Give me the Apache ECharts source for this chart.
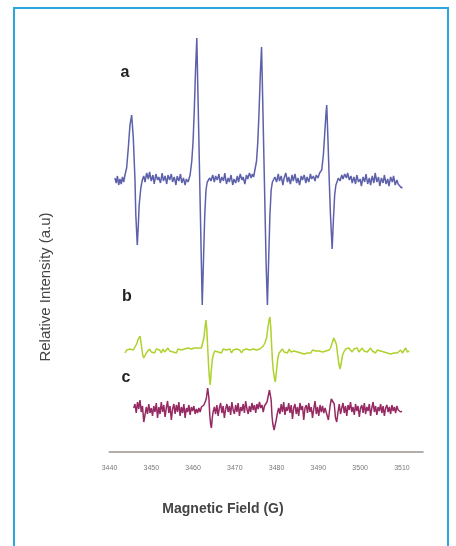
<!DOCTYPE html>
<html>
<head>
<meta charset="utf-8">
<script src="https://cdn.jsdelivr.net/npm/echarts@6/dist/echarts.min.js"></script>
<style>
html,body{margin:0;padding:0;background:#fff;}
#chart{width:456px;height:546px;}
</style>
</head>
<body>
<div id="chart"></div>
<script>
// Tick labels of the magnetic field axis (G)
var xTicks = [3440, 3450, 3460, 3470, 3480, 3490, 3500, 3510];
var seriesNames = ['a', 'b', 'c'];

// Trace a: [field (G), relative intensity]
var traceA = [
[3441.3,2],[3441.6,-3],[3441.9,4],[3442.2,-5],[3442.5,1],[3442.8,-4],[3443.1,3],[3443.4,-2],[3443.7,5],
[3443.9,6],[3444.1,12],[3444.5,32],[3444.9,55],[3445.3,65],[3445.7,42],[3446.1,0],[3446.3,-35],[3446.65,-65],[3446.9,-45],[3447.1,-25],[3447.5,-8],[3447.85,0],
[3448.2,4],[3448.5,-2],[3448.9,7],[3449.3,1],[3449.6,8],[3450.0,-1],[3450.4,5],[3450.7,-4],[3451.1,6],[3451.5,0],[3451.8,3],[3452.2,-3],[3452.6,7],[3452.9,-1],[3453.3,4],[3453.7,-4],[3454.0,5],[3454.4,0],[3454.8,6],[3455.1,-2],[3455.5,3],[3455.9,-5],[3456.2,4],[3456.6,-1],[3457.0,6],[3457.3,-3],[3457.7,2],[3458.1,-5],[3458.4,1],[3458.8,-2],
[3459.3,5],[3459.7,19],[3460.0,38],[3460.3,70],[3460.6,110],[3460.9,142],[3461.2,80],[3461.5,19],[3461.8,-43],[3462.0,-84],[3462.2,-125],[3462.5,-80],[3462.8,-35],[3463.1,-10],[3463.4,-2],
[3463.7,-3],[3464.0,2],[3464.3,-1],[3464.7,5],[3465.1,-2],[3465.4,4],[3465.8,0],[3466.2,6],[3466.5,-3],[3466.9,3],[3467.3,-1],[3467.6,7],[3468.0,-4],[3468.4,2],[3468.7,-2],[3469.1,5],[3469.5,-5],[3469.8,1],[3470.2,-3],[3470.6,4],[3470.9,-2],[3471.3,6],[3471.7,0],[3472.0,3],[3472.4,-4],[3472.8,5],[3473.1,1],[3473.5,7],[3473.9,2],[3474.2,6],[3474.5,3],
[3474.8,4],[3475.2,19],[3475.5,38],[3475.8,68],[3476.1,105],[3476.4,133],[3476.7,75],[3477.0,15],[3477.3,-45],[3477.5,-85],[3477.8,-125],[3478.1,-80],[3478.4,-35],[3478.7,-10],[3479.0,-2],
[3479.3,-4],[3479.6,3],[3480.0,-2],[3480.4,6],[3480.7,-1],[3481.1,4],[3481.5,-5],[3481.8,2],[3482.2,7],[3482.6,-2],[3482.9,3],[3483.3,-4],[3483.7,5],[3484.0,-1],[3484.4,6],[3484.8,-3],[3485.1,2],[3485.5,-5],[3485.9,4],[3486.2,0],[3486.6,5],[3487.0,-3],[3487.3,3],[3487.7,-2],[3488.1,6],[3488.4,1],[3488.8,4],[3489.2,-1],[3489.5,5],[3489.9,2],[3490.3,7],
[3490.8,10],[3491.2,25],[3491.5,45],[3491.8,65],[3492.0,75],[3492.3,40],[3492.6,0],[3492.9,-35],[3493.3,-69],[3493.6,-40],[3493.9,-15],[3494.2,-5],
[3494.5,-4],[3494.8,2],[3495.2,-1],[3495.6,5],[3495.9,1],[3496.3,6],[3496.7,2],[3497.0,7],[3497.4,0],[3497.8,4],[3498.1,-3],[3498.5,3],[3498.9,-4],[3499.2,5],[3499.6,-2],[3500.0,1],[3500.3,-6],[3500.7,3],[3501.1,-2],[3501.4,6],[3501.8,-4],[3502.2,2],[3502.5,-5],[3502.9,4],[3503.3,-3],[3503.6,7],[3504.0,-2],[3504.4,3],[3504.7,-6],[3505.1,2],[3505.5,-3],[3505.8,5],[3506.2,-4],[3506.6,1],[3506.9,-6],[3507.3,3],[3507.7,-2],[3508.0,4],[3508.4,-5],[3508.8,0],[3509.1,-4],[3509.5,-2],[3509.9,-8],[3510.1,-7]
];

// Trace b: [field (G), relative intensity]
var traceB = [
[3443.7,-1],[3444.1,2],[3444.5,0],[3444.9,3],[3445.3,1],[3445.7,2],[3446.1,4],[3446.5,8],[3446.9,13],[3447.3,16],[3447.6,8],[3447.9,-2],[3448.2,-6],[3448.5,-4],[3448.8,-1],[3449.2,1],[3449.6,3],[3450.0,0],[3450.4,2],[3450.8,-1],[3451.2,3],[3451.6,1],[3452.0,2],[3452.4,-1],[3452.8,3],[3453.2,0],[3453.6,2],[3454.0,4],[3454.4,1],[3454.8,3],[3455.2,0],[3455.6,2],[3456.0,-1],[3456.4,3],[3456.8,1],[3457.2,2],[3457.6,0],[3458.0,3],[3458.4,1],[3458.8,4],[3459.2,2],[3459.6,3],[3460.0,1],[3460.4,4],[3460.8,2],[3461.2,4],[3461.6,2],[3462.0,4],
[3462.3,6],[3462.6,14],[3462.9,26],[3463.1,32],[3463.3,22],[3463.5,5],[3463.7,-12],[3463.9,-25],[3464.1,-33],[3464.3,-22],[3464.6,-8],[3464.9,-2],[3465.2,1],
[3465.6,3],[3466.0,0],[3466.4,2],[3466.8,-1],[3467.2,3],[3467.6,1],[3468.0,2],[3468.4,0],[3468.8,3],[3469.2,-1],[3469.6,2],[3470.0,0],[3470.4,3],[3470.8,1],[3471.2,2],[3471.6,-1],[3472.0,2],[3472.4,0],[3472.8,3],[3473.2,1],[3473.6,2],[3474.0,0],[3474.4,3],[3474.8,1],[3475.2,2],[3475.6,4],[3476.0,3],[3476.4,5],[3476.8,6],
[3477.2,9],[3477.6,14],[3477.9,24],[3478.2,32],[3478.4,35],[3478.6,25],[3478.8,8],[3479.0,-8],[3479.2,-18],[3479.5,-27],[3479.7,-30],[3480.0,-18],[3480.3,-6],[3480.6,-1],
[3481.0,1],[3481.4,3],[3481.8,0],[3482.2,2],[3482.6,-1],[3483.0,3],[3483.4,0],[3483.8,2],[3484.2,1],[3484.6,3],[3485.0,0],[3485.4,2],[3485.8,-1],[3486.2,1],[3486.6,-2],[3487.0,0],[3487.4,-1],[3487.8,1],[3488.2,-1],[3488.6,2],[3489.0,0],[3489.4,1],[3489.8,3],[3490.2,1],[3490.6,2],[3491.0,0],[3491.4,2],[3491.8,1],[3492.2,3],[3492.6,2],
[3493.0,5],[3493.3,9],[3493.7,14],[3494.0,15],[3494.3,8],[3494.6,-2],[3494.9,-12],[3495.2,-17],[3495.5,-10],[3495.8,-3],[3496.1,0],
[3496.5,3],[3496.9,1],[3497.3,4],[3497.7,2],[3498.1,0],[3498.5,3],[3498.9,1],[3499.3,4],[3499.7,0],[3500.1,2],[3500.5,4],[3500.9,1],[3501.3,3],[3501.7,0],[3502.1,2],[3502.5,4],[3502.9,1],[3503.3,3],[3503.7,-1],[3504.1,2],[3504.5,4],[3504.9,1],[3505.3,3],[3505.7,0],[3506.1,2],[3506.5,-1],[3506.9,1],[3507.3,-2],[3507.7,0],[3508.1,-1],[3508.5,1],[3508.9,-1],[3509.3,0],[3509.7,2],[3510.1,-1],[3510.5,1],[3510.9,4],[3511.3,0],[3511.7,1]
];

// Trace c: [field (G), relative intensity]
var traceC = [
[3445.8,2],[3446.1,6],[3446.4,-3],[3446.7,8],[3447.0,1],[3447.3,10],[3447.6,-2],[3447.9,4],[3448.2,-12],[3448.5,-5],[3448.8,3],[3449.1,-4],[3449.4,6],[3449.7,-3],[3450.0,2],[3450.3,-6],[3450.6,4],[3450.9,-2],[3451.2,7],[3451.5,-8],[3451.8,3],[3452.1,-4],[3452.4,8],[3452.7,-2],[3453.0,5],[3453.3,-7],[3453.6,2],[3453.9,9],[3454.2,-3],[3454.5,4],[3454.8,-10],[3455.1,1],[3455.4,6],[3455.7,-4],[3456.0,5],[3456.3,-2],[3456.6,8],[3456.9,-6],[3457.2,3],[3457.5,-3],[3457.8,6],[3458.1,-8],[3458.4,2],[3458.7,-2],[3459.0,5],[3459.3,-5],[3459.6,3],[3459.9,-1],[3460.2,4],[3460.5,-4],[3460.8,1],[3461.1,-3],[3461.4,2],[3461.7,-2],[3462.0,3],[3462.3,1],
[3462.6,5],[3462.9,8],[3463.2,12],[3463.5,22],[3463.8,12],[3464.0,-5],[3464.2,-14],[3464.4,-18],[3464.6,-8],[3464.8,-2],
[3465.1,3],[3465.4,-4],[3465.7,5],[3466.0,-6],[3466.3,2],[3466.6,7],[3466.9,-3],[3467.2,4],[3467.5,-8],[3467.8,1],[3468.1,6],[3468.4,-2],[3468.7,4],[3469.0,-5],[3469.3,8],[3469.6,0],[3469.9,-4],[3470.2,5],[3470.5,-2],[3470.8,7],[3471.1,-6],[3471.4,3],[3471.7,-1],[3472.0,6],[3472.3,-3],[3472.6,9],[3472.9,1],[3473.2,-4],[3473.5,4],[3473.8,-2],[3474.1,7],[3474.4,0],[3474.7,5],[3475.0,-3],[3475.3,6],[3475.6,1],[3475.9,8],[3476.2,2],[3476.5,5],[3476.8,-2],[3477.1,4],[3477.4,3],
[3477.7,8],[3478.0,14],[3478.3,20],[3478.5,22],[3478.7,10],[3478.9,-6],[3479.1,-14],[3479.4,-20],[3479.6,-22],[3479.9,-10],[3480.2,-3],[3480.5,2],
[3480.8,-4],[3481.1,6],[3481.4,-2],[3481.7,8],[3482.0,-5],[3482.3,3],[3482.6,-1],[3482.9,7],[3483.2,-3],[3483.5,5],[3483.8,-9],[3484.1,2],[3484.4,6],[3484.7,-4],[3485.0,3],[3485.3,-6],[3485.6,7],[3485.9,0],[3486.2,4],[3486.5,-10],[3486.8,2],[3487.1,5],[3487.4,-3],[3487.7,7],[3488.0,-2],[3488.3,3],[3488.6,-8],[3488.9,1],[3489.2,9],[3489.5,-4],[3489.8,3],[3490.1,-6],[3490.4,5],[3490.7,-2],[3491.0,4],[3491.3,-3],[3491.6,2],[3492.0,-4],[3492.4,-10],[3492.8,4],[3493.1,11],[3493.5,12],[3493.8,6],[3494.1,-8],[3494.4,-12],[3494.7,-2],
[3495.0,6],[3495.3,-4],[3495.6,2],[3495.9,7],[3496.2,-3],[3496.5,4],[3496.8,-6],[3497.1,5],[3497.4,0],[3497.7,8],[3498.0,-2],[3498.3,3],[3498.6,-5],[3498.9,6],[3499.2,-1],[3499.5,4],[3499.8,-7],[3500.1,2],[3500.4,5],[3500.7,-3],[3501.0,7],[3501.3,-4],[3501.6,3],[3501.9,-1],[3502.2,6],[3502.5,-6],[3502.8,2],[3503.1,8],[3503.4,-2],[3503.7,4],[3504.0,-5],[3504.3,3],[3504.6,-1],[3504.9,6],[3505.2,-3],[3505.5,4],[3505.8,-6],[3506.1,2],[3506.4,5],[3506.7,-2],[3507.0,3],[3507.3,-4],[3507.6,5],[3507.9,-1],[3508.2,3],[3508.5,-3],[3508.8,4],[3509.1,0],[3509.4,2],[3509.7,-2],[3510.0,-1]
];

// vertical stacking offsets for each trace (layout)
var offsets = [272, 100, 42];
var colors = ['#5d61aa', '#aed12c', '#962a63'];

function shift(arr, off) {
  return arr.map(function (p) { return [p[0], p[1] + off]; });
}
var traces = [traceA, traceB, traceC];

var chart = echarts.init(document.getElementById('chart'), null, {renderer: 'canvas'});
var option = {
  animation: false,
  backgroundColor: '#ffffff',
  grid: {left: 109.5, right: 33.2, top: 30, bottom: 94, containLabel: false},
  xAxis: {
    type: 'value', min: 3440, max: 3515, interval: 10,
    axisLine: {show: true, lineStyle: {color: '#b5aea8', width: 2}},
    axisTick: {show: false},
    splitLine: {show: false},
    axisLabel: {
      customValues: xTicks,
      formatter: function (v) { return String(v); },
      fontSize: 7, color: '#7a7a7a', margin: 13,
      fontFamily: 'Liberation Sans'
    }
  },
  yAxis: {type: 'value', min: 0, max: 422, show: false, splitLine: {show: false}},
  series: traces.map(function (t, i) {
    return {
      name: seriesNames[i], type: 'line', data: shift(t, offsets[i]),
      showSymbol: false, symbol: 'none', smooth: false, clip: false,
      lineStyle: {color: colors[i], width: 1.5},
      z: 3 - i
    };
  }),
  graphic: [
    {type: 'rect', shape: {x: 14, y: 8, width: 434, height: 560}, style: {fill: 'none', stroke: '#2aa7dc', lineWidth: 2}, silent: true},
    {type: 'text', x: 125, y: 73, style: {text: seriesNames[0], font: 'bold 16px "Liberation Sans"', fill: '#222', align: 'center', verticalAlign: 'middle'}},
    {type: 'text', x: 127, y: 297, style: {text: seriesNames[1], font: 'bold 16px "Liberation Sans"', fill: '#222', align: 'center', verticalAlign: 'middle'}},
    {type: 'text', x: 126, y: 378, style: {text: seriesNames[2], font: 'bold 16px "Liberation Sans"', fill: '#222', align: 'center', verticalAlign: 'middle'}},
    {type: 'text', x: 223, y: 509, style: {text: 'Magnetic Field (G)', font: 'bold 14px "Liberation Sans"', fill: '#444', align: 'center', verticalAlign: 'middle'}},
    {type: 'text', x: 46, y: 287, rotation: Math.PI / 2, style: {text: 'Relative Intensity (a.u)', font: '15px "Liberation Sans"', fill: '#444', align: 'center', verticalAlign: 'middle'}}
  ]
};
chart.setOption(option);
</script>
</body>
</html>
